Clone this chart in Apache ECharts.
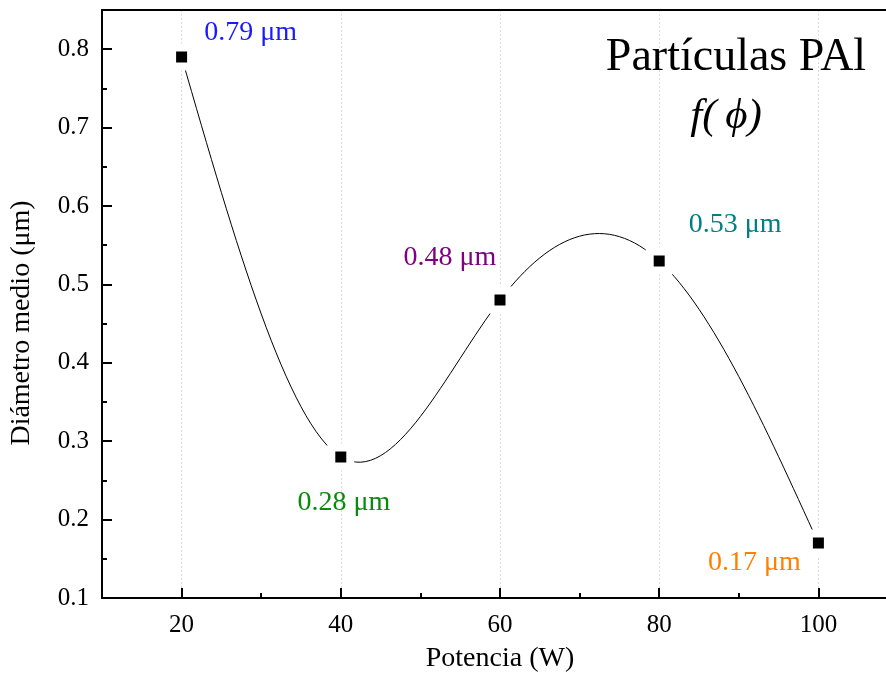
<!DOCTYPE html>
<html>
<head>
<meta charset="utf-8">
<script src="https://cdn.jsdelivr.net/npm/echarts@6/dist/echarts.min.js"></script>
<style>
  html, body { margin: 0; padding: 0; background: #fff; width: 886px; height: 684px; overflow: hidden; }
  /* the plot frame continues past the visible right edge */
  #chart { width: 930px; height: 684px; }
</style>
</head>
<body>
<div id="chart"></div>
<script>
// Mean particle diameter versus plasma power
const power = [20, 40, 60, 80, 100];
const diameter = [0.79, 0.28, 0.48, 0.53, 0.17];

// Axis ticks
const xTicks = [20, 40, 60, 80, 100];
const xMinorTicks = [30, 50, 70, 90];
const yTicks = [0.1, 0.2, 0.3, 0.4, 0.5, 0.6, 0.7, 0.8];
const yMinorTicks = [0.15, 0.25, 0.35, 0.45, 0.55, 0.65, 0.75];

// Per-point label styling
const labelColors = ['#1a1aff', '#0a8a0a', '#800080', '#008080', '#ff8000'];
const labelOffsets = [[69, -24], [3, 46], [-50, -42], [76, -36], [-64, 20]];

const FONT = '"Liberation Serif", "Times New Roman", serif';

// Natural cubic spline through the points: returns second derivatives
function splineSecondDerivs(xs, ys) {
  const n = xs.length;
  const M = new Array(n).fill(0);
  if (n < 3) return M;
  const a = [], b = [], c = [], d = [];
  for (let i = 1; i < n - 1; i++) {
    const h0 = xs[i] - xs[i - 1], h1 = xs[i + 1] - xs[i];
    a.push(h0);
    b.push(2 * (h0 + h1));
    c.push(h1);
    d.push(6 * ((ys[i + 1] - ys[i]) / h1 - (ys[i] - ys[i - 1]) / h0));
  }
  const m = b.length;
  for (let i = 1; i < m; i++) {
    const w = a[i] / b[i - 1];
    b[i] -= w * c[i - 1];
    d[i] -= w * d[i - 1];
  }
  const sol = new Array(m);
  sol[m - 1] = d[m - 1] / b[m - 1];
  for (let i = m - 2; i >= 0; i--) sol[i] = (d[i] - c[i] * sol[i + 1]) / b[i];
  for (let i = 0; i < m; i++) M[i + 1] = sol[i];
  return M;
}

// Each spline piece expressed as a cubic Bezier in data space
const M2 = splineSecondDerivs(power, diameter);
const segments = [];
for (let i = 0; i < power.length - 1; i++) {
  const x0 = power[i], x1 = power[i + 1];
  const y0 = diameter[i], y1 = diameter[i + 1];
  const h = x1 - x0;
  const s = (y1 - y0) / h;
  const m0 = s - h * (2 * M2[i] + M2[i + 1]) / 6;
  const m1 = s + h * (M2[i] + 2 * M2[i + 1]) / 6;
  segments.push({
    p0: [x0, y0],
    c0: [x0 + h / 3, y0 + m0 * h / 3],
    c1: [x1 - h / 3, y1 - m1 * h / 3],
    p1: [x1, y1]
  });
}

const chart = echarts.init(document.getElementById('chart'), null, { renderer: 'canvas' });

const gridBox = { left: 102, top: 10, width: 796, height: 588, outerBoundsMode: 'none', containLabel: false, show: false };

const option = {
  animation: false,
  backgroundColor: '#fff',
  grid: [
    Object.assign({}, gridBox),
    Object.assign({}, gridBox)
  ],
  xAxis: [
    {
      type: 'value', gridIndex: 0, min: 10, max: 110, interval: 10, position: 'bottom',
      name: 'Potencia (W)', nameLocation: 'middle', nameGap: 47,
      nameTextStyle: { fontFamily: FONT, fontSize: 28, color: '#000' },
      axisLine: { show: true, onZero: false, lineStyle: { color: '#000', width: 2 } },
      axisTick: { show: true, inside: true, length: 10, customValues: xTicks, lineStyle: { color: '#000', width: 2 } },
      axisLabel: { show: true, customValues: xTicks, margin: 15, fontFamily: FONT, fontSize: 25, color: '#000' },
      splitLine: { show: true, lineStyle: { color: '#dcdcdc', width: 1, type: [2, 2] } }
    },
    {
      // top frame line
      type: 'value', gridIndex: 0, min: 10, max: 110, position: 'top',
      axisLine: { show: true, onZero: false, lineStyle: { color: '#000', width: 2 } },
      axisTick: { show: false },
      axisLabel: { show: false },
      splitLine: { show: false }
    },
    {
      type: 'value', gridIndex: 1, min: 10, max: 110, position: 'bottom',
      axisLine: { show: false, onZero: false },
      axisTick: { show: true, inside: true, length: 5, customValues: xMinorTicks, lineStyle: { color: '#000', width: 2 } },
      axisLabel: { show: false },
      splitLine: { show: false }
    }
  ],
  yAxis: [
    {
      type: 'value', gridIndex: 0, min: 0.1, max: 0.85, interval: 0.1,
      name: 'Diámetro medio (μm)', nameLocation: 'middle', nameGap: 66, nameRotate: 90,
      nameTextStyle: { fontFamily: FONT, fontSize: 28, color: '#000', padding: [0, 38, 0, 0] },
      axisLine: { show: true, onZero: false, lineStyle: { color: '#000', width: 2 } },
      axisTick: { show: true, inside: true, length: 10, customValues: yTicks, lineStyle: { color: '#000', width: 2 } },
      axisLabel: { show: true, customValues: yTicks, margin: 13, fontFamily: FONT, fontSize: 25, color: '#000',
        formatter: v => v.toFixed(1) },
      splitLine: { show: false }
    },
    {
      type: 'value', gridIndex: 1, min: 0.1, max: 0.85, position: 'left',
      axisLine: { show: false, onZero: false },
      axisTick: { show: true, inside: true, length: 5, customValues: yMinorTicks, lineStyle: { color: '#000', width: 2 } },
      axisLabel: { show: false },
      splitLine: { show: false }
    }
  ],
  graphic: [
    {
      type: 'text', x: 736, y: 58, z: 10,
      style: { text: 'Partículas PAl', font: '46px ' + FONT, fill: '#000', textAlign: 'center', textVerticalAlign: 'middle' }
    },
    {
      type: 'text', x: 726, y: 117, z: 10,
      style: { text: 'f(\u2009ϕ)', font: 'italic 43px ' + FONT, fill: '#000', textAlign: 'center', textVerticalAlign: 'middle' }
    },
    {
      // keep the open right side of the frame clear
      type: 'rect', z: 100, silent: true,
      shape: { x: 874, y: 12, width: 56, height: 584 },
      style: { fill: '#fff' }
    }
  ],
  series: [
    {
      // spline connecting the measured points
      type: 'custom',
      xAxisIndex: 0, yAxisIndex: 0,
      silent: true, z: 2,
      data: power.map((x, i) => [x, diameter[i]]),
      encode: { x: 0, y: 1 },
      renderItem: function (params, api) {
        const seg = segments[params.dataIndex];
        if (!seg) return null;
        const p0 = api.coord(seg.p0), c0 = api.coord(seg.c0), c1 = api.coord(seg.c1), p1 = api.coord(seg.p1);
        return {
          type: 'bezierCurve',
          shape: { x1: p0[0], y1: p0[1], cpx1: c0[0], cpy1: c0[1], cpx2: c1[0], cpy2: c1[1], x2: p1[0], y2: p1[1] },
          style: { stroke: '#000', lineWidth: 1, fill: null }
        };
      }
    },
    {
      type: 'scatter',
      xAxisIndex: 0, yAxisIndex: 0,
      z: 5,
      symbol: 'rect',
      symbolSize: 19,
      itemStyle: { color: '#000', borderColor: '#fff', borderWidth: 8, opacity: 1 },
      emphasis: { disabled: true },
      data: power.map((x, i) => ({
        value: [x, diameter[i]],
        label: { color: labelColors[i], offset: labelOffsets[i] }
      })),
      label: {
        show: true, position: 'inside',
        fontFamily: FONT, fontSize: 28,
        formatter: p => p.value[1].toFixed(2) + ' μm'
      }
    }
  ]
};

chart.setOption(option);
</script>
</body>
</html>
